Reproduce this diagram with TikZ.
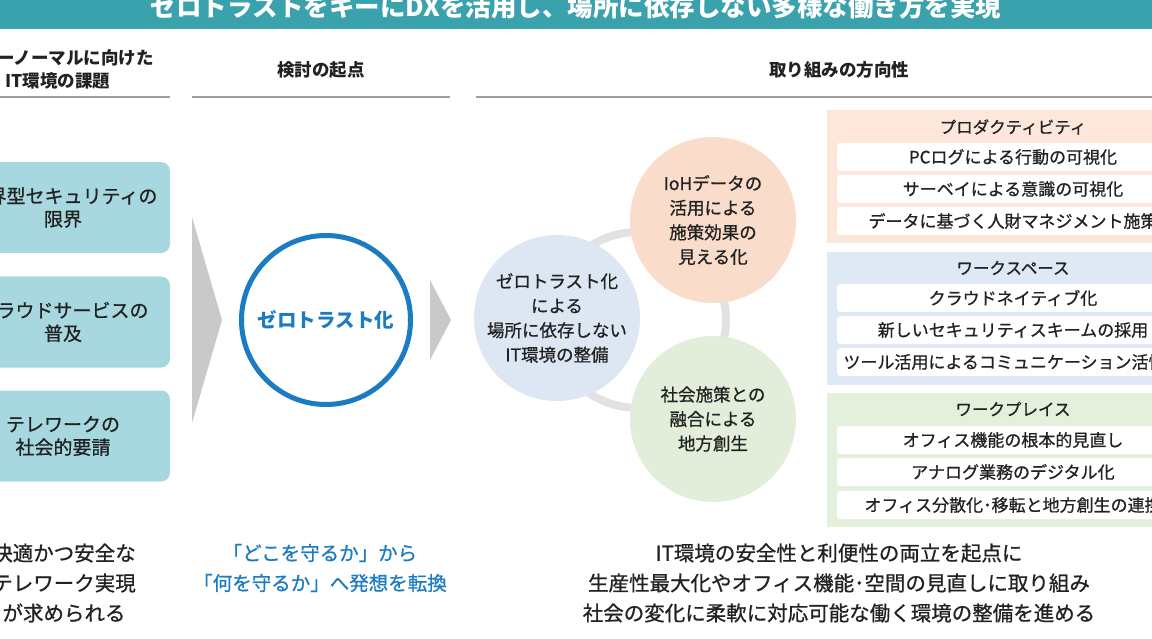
\documentclass[tikz,border=0pt]{standalone}
\usepackage{fontspec}
\setmainfont{Noto Sans CJK JP}
\newfontfamily\medfont{Noto Sans CJK JP}[FakeBold=0.8]

\definecolor{bannerteal}{HTML}{3AA2AD}
\definecolor{issueteal}{HTML}{A8D8DF}
\definecolor{chevgray}{HTML}{C9C9C9}
\definecolor{ruleline}{HTML}{A0A0A0}
\definecolor{ztblue}{HTML}{1C7CC3}
\definecolor{ringgray}{HTML}{E2E2E2}
\definecolor{peachsec}{HTML}{FCE7DA}
\definecolor{peachdot}{HTML}{F9DCC9}
\definecolor{bluesec}{HTML}{DEE9F5}
\definecolor{bluedot}{HTML}{DCE7F3}
\definecolor{greensec}{HTML}{E4EFDC}
\definecolor{greendot}{HTML}{E2EEDA}
\definecolor{inktext}{HTML}{222222}

\tikzset{
  headtext/.style={align=center, text=inktext, font=\fontsize{17.5}{23}\selectfont\bfseries},
  issuebox/.style={rounded corners=9pt, fill=issueteal, minimum width=214pt, minimum height=91pt,
    align=center, text=inktext, font=\medfont\fontsize{19}{23}\selectfont},
  focusdot/.style={circle, inner sep=0pt, minimum size=166pt, align=center, text=inktext,
    font=\medfont\fontsize{17.5}{24.5}\selectfont},
  secbar/.style={text=inktext, font=\medfont\fontsize{16.5}{20}\selectfont},
  itemrow/.style={fill=white, rounded corners=3pt, minimum width=352pt, minimum height=28pt,
    text=inktext, font=\medfont\fontsize{17}{20}\selectfont},
  sumtext/.style={align=center, text=inktext, font=\medfont\fontsize{20.5}{30}\selectfont}
}

\begin{document}
\begin{tikzpicture}[x=1pt, y=-1pt]
% Frame of the picture (the source is cut at the left and the top)
\useasboundingbox (0,0) rectangle (1152,639);
\clip (0,0) rectangle (1152,639);
\fill[white] (0,0) rectangle (1152,639);

% Title bar
\fill[bannerteal] (0,0) rectangle (1152,29);
\node[anchor=base, text=white, font=\fontsize{25.5}{30}\selectfont\bfseries] (title) at (576,16.5)
  {ゼロトラストをキーにDXを活用し、場所に依存しない多様な働き方を実現};

% Column headers
\node[headtext] (headissue) at (58,69) {ニューノーマルに向けた\\IT環境の課題};
\node[headtext] (headstart) at (321,70) {検討の起点};
\node[headtext] (headdir) at (839,70) {取り組みの方向性};
\draw[ruleline, line width=2pt] (-10,97) -- (170,97);
\draw[ruleline, line width=2pt] (192,97) -- (450,97);
\draw[ruleline, line width=2pt] (476,97) -- (1160,97);

% Issues
\node[issuebox] (perimeter) at (63,207.5) {境界型セキュリティの\\限界};
\node[issuebox] (cloud) at (63,322) {クラウドサービスの\\普及};
\node[issuebox] (telework) at (63,436) {テレワークの\\社会的要請};

% Chevrons
\fill[chevgray] (192,217) -- (222,320) -- (192,423) -- cycle;
\fill[chevgray] (430,280) -- (451,320) -- (430,360) -- cycle;

% Starting point
\node[circle, draw=ztblue, line width=5pt, minimum size=169pt, inner sep=0pt, text=ztblue,
  font=\fontsize{19.5}{23}\selectfont\bfseries] (zerotrust) at (326,320) {ゼロトラスト化};

% Three focus circles on a ring
\draw[ringgray, line width=8pt] (638,320) circle[radius=88];
\node[focusdot, fill=bluedot] (itenv) at (557,318) {ゼロトラスト化\\による\\場所に依存しない\\IT環境の整備};
\node[focusdot, fill=peachdot] (ioh) at (713,220) {IoHデータの\\活用による\\施策効果の\\見える化};
\node[focusdot, fill=greendot] (region) at (713,419) {社会施策との\\融合による\\地方創生};

% Directions: productivity
\fill[peachsec] (827,110) rectangle (1200,243);
\node[secbar] (prodhead) at (1013,127) {プロダクティビティ};
\node[itemrow] (pclog) at (1013,157) {PCログによる行動の可視化};
\node[itemrow] (survey) at (1013,189) {サーベイによる意識の可視化};
\node[itemrow] (talent) at (1013,221) {データに基づく人財マネジメント施策};

% Directions: workspace
\fill[bluesec] (827,252) rectangle (1200,385);
\node[secbar] (spacehead) at (1013,268) {ワークスペース};
\node[itemrow] (native) at (1013,298) {クラウドネイティブ化};
\node[itemrow] (scheme) at (1013,330) {新しいセキュリティスキームの採用};
\node[itemrow] (comms) at (1013,362) {ツール活用によるコミュニケーション活性化};

% Directions: workplace
\fill[greensec] (827,393) rectangle (1200,527);
\node[secbar] (placehead) at (1013,409) {ワークプレイス};
\node[itemrow] (office) at (1013,440) {オフィス機能の根本的見直し};
\node[itemrow] (analog) at (1013,472) {アナログ業務のデジタル化};
\node[itemrow] (spread) at (1013,505) {オフィス分散化･移転と地方創生の連携};

% Summaries
\node[sumtext] (sumissue) at (64,583) {快適かつ安全な\\テレワーク実現\\が求められる};
\node[sumtext, text=ztblue, font=\medfont\fontsize{19.5}{30}\selectfont] (sumstart) at (320,568)
  {「どこを守るか」から\\「何を守るか」へ発想を転換};
\node[sumtext] (sumdir) at (839,583)
  {IT環境の安全性と利便性の両立を起点に\\生産性最大化やオフィス機能･空間の見直しに取り組み\\社会の変化に柔軟に対応可能な働く環境の整備を進める};
\end{tikzpicture}
\end{document}
